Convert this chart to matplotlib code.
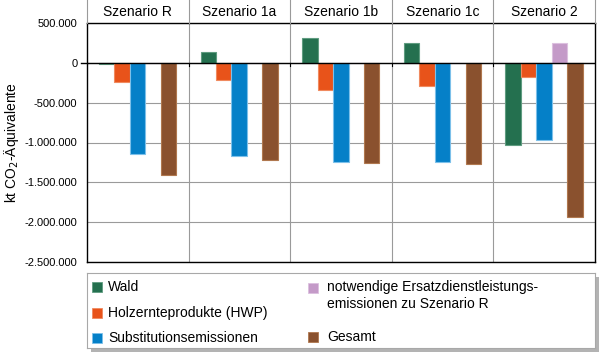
import matplotlib
matplotlib.use("Agg")
import matplotlib.pyplot as plt
from matplotlib.patches import Rectangle
from matplotlib.ticker import FuncFormatter

plt.rcParams['font.family'] = ['Liberation Sans', 'DejaVu Sans']

# data (kt CO2-Äquivalente)
szenarien = ["Szenario R", "Szenario 1a", "Szenario 1b", "Szenario 1c", "Szenario 2"]
wald = [-20000, 140000, 310000, 250000, -1035000]
hwp = [-245000, -210000, -335000, -285000, -175000]
substitution = [-1140000, -1170000, -1245000, -1245000, -970000]
ersatz = [0, 0, 0, 0, 245000]
gesamt = [-1410000, -1215000, -1255000, -1270000, -1940000]

serien = ["Wald", "Holzernteprodukte (HWP)", "Substitutionsemissionen",
          "notwendige Ersatzdienstleistungs-\nemissionen zu Szenario R", "Gesamt"]
farben = ["#24704f", "#e8531a", "#0580c8", "#c49ac8", "#8a512e"]
kanten = ["#5f9c80", "#f08a5f", "#7cc0ea", "#dcc0df", "#b0784f"]

W, H = 600, 353
fig = plt.figure(figsize=(W / 100, H / 100), dpi=100)

left, right, top, bottom = 87, 595, 23, 262
ax = fig.add_axes([left / W, 1 - bottom / H, (right - left) / W, (bottom - top) / H])
ax.set_xlim(0, 5)
ax.set_ylim(-2500000, 500000)

bw = 0.152
offs = [0.194, 0.346, 0.498, 0.650, 0.802]
daten = [wald, hwp, substitution, ersatz, gesamt]
for k, werte in enumerate(daten):
    xs = [i + offs[k] for i in range(5)]
    ax.bar(xs, werte, width=bw, color=farben[k], edgecolor=kanten[k],
           linewidth=0.8, zorder=3)

ax.set_yticks(range(-2500000, 500001, 500000))
ax.yaxis.set_major_formatter(FuncFormatter(lambda v, p: f"{int(v):,}".replace(",", ".")))
ax.tick_params(axis='y', length=0, pad=7, labelsize=8)
ax.set_xticks([])
ax.grid(axis='y', color='#9a9a9a', linewidth=0.8, zorder=0)
for i in range(1, 5):
    ax.axvline(i, color='#9a9a9a', linewidth=0.8, zorder=0)
    ax.plot([i, i], [0, -40000], color='black', linewidth=0.8, zorder=4)
ax.axhline(0, color='black', linewidth=1.0, zorder=4)
ax.plot([-0.06, 0], [0, 0], color='black', linewidth=1.0, clip_on=False)
for s in ax.spines.values():
    s.set_linewidth(1.0)
ax.set_ylabel("kt CO$_2$-Äquivalente", fontsize=10)
ax.yaxis.set_label_coords(-0.13, 0.5)

# header row with scenario names
hx = fig.add_axes([left / W, 1 - top / H, (right - left) / W, top / H])
hx.set_xlim(0, 5)
hx.set_ylim(0, 1)
hx.axis('off')
for i in range(6):
    hx.plot([i, i], [0, 1], color='#9a9a9a', linewidth=0.8, clip_on=False)
for i, name in enumerate(szenarien):
    hx.text(i + 0.5, 0.5, name, ha='center', va='center', fontsize=10)

# legend box with shadow
lt, lb = 273, 348
sx = fig.add_axes([(left + 4) / W, 1 - (lb + 4) / H, (right - left) / W, (lb - lt) / H])
sx.set_facecolor('#b3b3b3')
sx.set_xticks([])
sx.set_yticks([])
for s in sx.spines.values():
    s.set_visible(False)

lx = fig.add_axes([left / W, 1 - lb / H, (right - left) / W, (lb - lt) / H])
lx.set_facecolor('white')
lx.set_xlim(0, right - left)
lx.set_ylim(lb - lt, 0)
lx.set_xticks([])
lx.set_yticks([])
for s in lx.spines.values():
    s.set_color('#a8a8a8')
    s.set_linewidth(0.8)
pos = [(5, 14), (5, 40), (5, 65), (221, 15), (221, 64)]
for k, (px, py) in enumerate(pos):
    lx.add_patch(Rectangle((px, py - 5), 10, 10, facecolor=farben[k],
                           edgecolor=kanten[k], linewidth=0.6))
    if k == 3:
        lx.text(px + 19, 7, serien[k], va='top', fontsize=10, linespacing=1.25)
    else:
        lx.text(px + 16 + (3 if k == 4 else 0), py, serien[k], va='center', fontsize=10)

fig.savefig("out.png", dpi=100)
